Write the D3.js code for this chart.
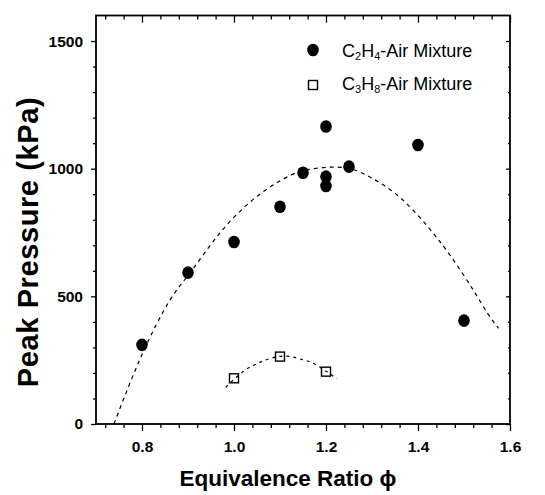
<!DOCTYPE html>
<html>
<head>
<meta charset="utf-8">
<script src="https://cdn.jsdelivr.net/npm/d3@7"></script>
<style>
  html, body { margin: 0; padding: 0; background: #fff; }
  svg { display: block; }
  text { font-family: "Liberation Sans", Arial, Helvetica, sans-serif; fill: #000; }
</style>
</head>
<body>
<svg id="chart" width="545" height="495"></svg>
<script>
// ---- data ----
const xTickValues = [0.8, 1.0, 1.2, 1.4, 1.6];
const xTickLabels = ["0.8", "1.0", "1.2", "1.4", "1.6"];
const yTickValues = [0, 500, 1000, 1500];
const yTickLabels = ["0", "500", "1000", "1500"];

const c2h4Phi = [0.8, 0.9, 1.0, 1.1, 1.15, 1.2, 1.2, 1.2, 1.25, 1.4, 1.5];
const c2h4P   = [310, 593, 713, 851, 984, 1165, 969, 932, 1008, 1093, 405];

const c3h8Phi = [1.0, 1.1, 1.2];
const c3h8P   = [179, 264, 205];

const fitC2h4Phi = [0.739, 0.80, 0.859, 0.901, 0.950, 1.000, 1.062, 1.124, 1.170, 1.239, 1.301, 1.363, 1.424, 1.472, 1.520, 1.551, 1.575];
const fitC2h4P   = [0, 272, 480, 584, 704, 810, 908, 975, 999, 1004, 962, 884, 767, 655, 525, 434, 375];

const fitC3h8Phi = [0.982, 1.021, 1.052, 1.081, 1.116, 1.147, 1.175, 1.224];
const fitC3h8P   = [144, 207, 238, 258, 266, 253, 235, 177];

const legendNames = [["C", "2", "H", "4", "-Air Mixture"], ["C", "3", "H", "8", "-Air Mixture"]];
const xTitle = "Equivalence Ratio ϕ";
const yTitle = "Peak Pressure (kPa)";

// ---- layout ----
const svg = d3.select("#chart");
const L = 96, R = 510, T = 15.5, B = 424;
const x = d3.scaleLinear().domain([0.7, 1.6]).range([L, R]);
const y = d3.scaleLinear().domain([0, 1600]).range([B, T]);

// minor ticks
const xMinor = d3.range(0.72, 1.6001, 0.04).filter(v => !xTickValues.some(m => Math.abs(m - v) < 1e-6));
const yMinor = d3.range(100, 1600, 100).filter(v => v % 500 !== 0);

// bottom axis
const gB = svg.append("g").attr("transform", `translate(0,${B})`);
gB.call(d3.axisBottom(x).tickValues(xTickValues).tickSize(7).tickPadding(10)
  .tickFormat((d, i) => xTickLabels[i]));
gB.append("g").call(d3.axisBottom(x).tickValues(xMinor).tickSize(4).tickFormat(""));
// top axis (inward ticks)
const gT = svg.append("g").attr("transform", `translate(0,${T})`);
gT.call(d3.axisTop(x).tickValues(xTickValues).tickSize(-7).tickFormat(""));
gT.append("g").call(d3.axisTop(x).tickValues(xMinor).tickSize(-4).tickFormat(""));
// left axis
const gL = svg.append("g").attr("transform", `translate(${L},0)`);
gL.call(d3.axisLeft(y).tickValues(yTickValues).tickSize(5).tickPadding(8)
  .tickFormat((d, i) => yTickLabels[i]));
gL.append("g").call(d3.axisLeft(y).tickValues(yMinor).tickSize(3).tickFormat(""));
// right axis (inward)
const gR = svg.append("g").attr("transform", `translate(${R},0)`);
gR.call(d3.axisRight(y).tickValues(yTickValues).tickSize(-4).tickFormat(""));
gR.append("g").call(d3.axisRight(y).tickValues(yMinor).tickSize(-2).tickFormat(""));

svg.selectAll(".domain").remove();
svg.selectAll(".tick line").attr("stroke", "#000").attr("stroke-width", 1.3);
svg.selectAll(".tick text").attr("font-size", 15.5).attr("font-weight", "bold")
  .attr("font-family", '"Liberation Sans", Arial, sans-serif').attr("fill", "#000");

// frame
svg.append("rect").attr("x", L).attr("y", T).attr("width", R - L).attr("height", B - T)
  .attr("fill", "none").attr("stroke", "#000").attr("stroke-width", 1.8);

// fit curves
const line = d3.line().x(d => x(d[0])).y(d => y(d[1])).curve(d3.curveNatural);
svg.append("path").datum(fitC2h4Phi.map((v, i) => [v, fitC2h4P[i]]))
  .attr("d", line).attr("fill", "none").attr("stroke", "#000")
  .attr("stroke-width", 1.2).attr("stroke-dasharray", "4,4");
svg.append("path").datum(fitC3h8Phi.map((v, i) => [v, fitC3h8P[i]]))
  .attr("d", line).attr("fill", "none").attr("stroke", "#000")
  .attr("stroke-width", 1.2).attr("stroke-dasharray", "3,4");

// markers
svg.append("g").selectAll("ellipse").data(c2h4Phi.map((v, i) => [v, c2h4P[i]])).join("ellipse")
  .attr("cx", d => x(d[0])).attr("cy", d => y(d[1])).attr("rx", 5.8).attr("ry", 6.3)
  .attr("fill", "#000");
svg.append("g").selectAll("rect").data(c3h8Phi.map((v, i) => [v, c3h8P[i]])).join("rect")
  .attr("x", d => x(d[0]) - 4.5).attr("y", d => y(d[1]) - 4.5).attr("width", 9).attr("height", 9)
  .attr("fill", "none").attr("stroke", "#000").attr("stroke-width", 1.4);

// legend
const lg = svg.append("g");
lg.append("ellipse").attr("cx", 313).attr("cy", 50).attr("rx", 5.8).attr("ry", 6.3).attr("fill", "#000");
lg.append("rect").attr("x", 308.5).attr("y", 80.5).attr("width", 9).attr("height", 9)
  .attr("fill", "none").attr("stroke", "#000").attr("stroke-width", 1.4);
legendNames.forEach((parts, i) => {
  const t = lg.append("text").attr("x", 342).attr("y", 57 + i * 33).attr("font-size", 18);
  t.append("tspan").text(parts[0]);
  t.append("tspan").text(parts[1]).attr("font-size", 11).attr("dy", 3);
  t.append("tspan").text(parts[2]).attr("dy", -3);
  t.append("tspan").text(parts[3]).attr("font-size", 11).attr("dy", 3);
  t.append("tspan").text(parts[4]).attr("dy", -3);
});

// axis titles
svg.append("text").attr("x", 288).attr("y", 486).attr("text-anchor", "middle")
  .attr("font-size", 22.5).attr("font-weight", "bold").text(xTitle);
svg.append("text").attr("transform", "translate(38,242) rotate(-90)").attr("text-anchor", "middle")
  .attr("font-size", 29).attr("font-weight", "bold").attr("letter-spacing", 0.6).text(yTitle);
</script>
</body>
</html>
